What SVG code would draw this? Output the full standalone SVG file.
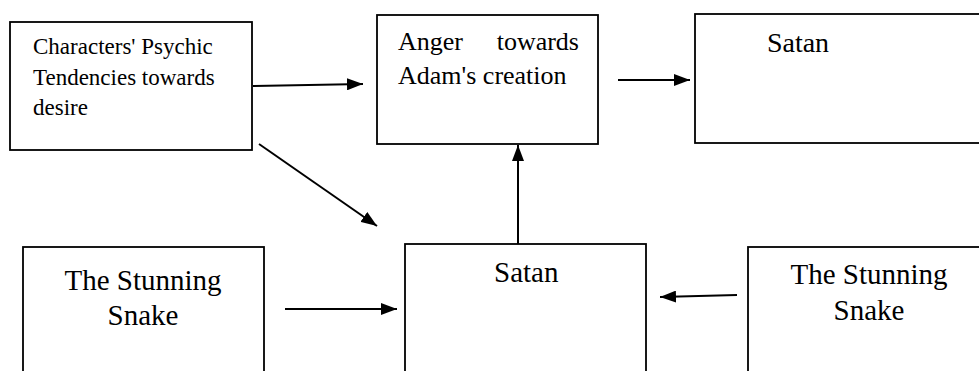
<svg xmlns="http://www.w3.org/2000/svg" width="979" height="371" viewBox="0 0 979 371">
<defs>
<marker id="ah" viewBox="0 0 16 12" refX="16" refY="6" markerWidth="16" markerHeight="12" markerUnits="userSpaceOnUse" orient="auto">
<path d="M0,0 L16,6 L0,12 Z" fill="#000"/>
</marker>
</defs>
<rect width="979" height="371" fill="#fff"/>
<g id="n1">
<rect fill="#fff" stroke="#000" stroke-width="1.8" x="10" y="22" width="242" height="128"/>
<text font-family="Liberation Serif" font-size="23" x="33" y="54">Characters' Psychic</text>
<text font-family="Liberation Serif" font-size="23" x="33" y="85">Tendencies towards</text>
<text font-family="Liberation Serif" font-size="23" x="33" y="115">desire</text>
</g>
<g id="n2">
<rect fill="#fff" stroke="#000" stroke-width="1.8" x="377" y="15" width="221" height="129"/>
<text font-family="Liberation Serif" font-size="26" x="398" y="50">Anger</text>
<text font-family="Liberation Serif" font-size="26" x="579" y="50" text-anchor="end">towards</text>
<text font-family="Liberation Serif" font-size="26" x="398" y="84">Adam's creation</text>
</g>
<g id="n3">
<rect fill="#fff" stroke="#000" stroke-width="1.8" x="695" y="14" width="300" height="129"/>
<text font-family="Liberation Serif" font-size="28" x="798" y="52" text-anchor="middle">Satan</text>
</g>
<g id="n4">
<rect fill="#fff" stroke="#000" stroke-width="1.8" x="23" y="247" width="241" height="140"/>
<text font-family="Liberation Serif" font-size="29" x="143" y="290" text-anchor="middle">The Stunning</text>
<text font-family="Liberation Serif" font-size="29" x="143" y="325" text-anchor="middle">Snake</text>
</g>
<g id="n5">
<rect fill="#fff" stroke="#000" stroke-width="1.8" x="405" y="244" width="241" height="140"/>
<text font-family="Liberation Serif" font-size="29" x="494" y="282">Satan</text>
</g>
<g id="n6">
<rect fill="#fff" stroke="#000" stroke-width="1.8" x="748" y="247" width="260" height="140"/>
<text font-family="Liberation Serif" font-size="29" x="869" y="284" text-anchor="middle">The Stunning</text>
<text font-family="Liberation Serif" font-size="29" x="869" y="320" text-anchor="middle">Snake</text>
</g>
<g id="connectors" stroke="#000" stroke-width="2" fill="none" marker-end="url(#ah)">
<line x1="253" y1="86" x2="363" y2="84"/>
<line x1="618" y1="80" x2="690" y2="80"/>
<line x1="259" y1="144" x2="377" y2="226"/>
<line x1="518" y1="244" x2="518" y2="145"/>
<line x1="285" y1="309" x2="397" y2="309"/>
<line x1="737" y1="295" x2="660" y2="297"/>
</g>
</svg>
